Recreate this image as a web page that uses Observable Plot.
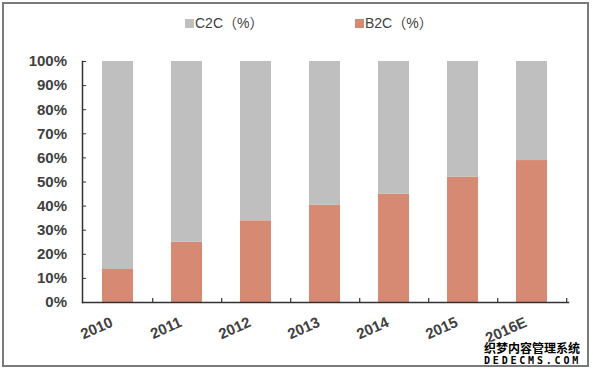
<!DOCTYPE html>
<html>
<head>
<meta charset="utf-8">
<script src="https://cdn.jsdelivr.net/npm/d3@7"></script>
<script src="https://cdn.jsdelivr.net/npm/@observablehq/plot@0.6"></script>
<style>
  html, body { margin: 0; padding: 0; background: #fff; }
  #wrap { position: relative; width: 593px; height: 373px; overflow: hidden; font-family: "Liberation Sans", Arial, "Noto Sans CJK SC", sans-serif; }
  #frame { position: absolute; left: 2px; top: 2px; width: 583px; height: 361px; border: 2px solid #7a7a7a; pointer-events: none; }
  #legend { position: relative; height: 45px; }
  .item { position: absolute; top: 15px; font-size: 14px; color: #404040; line-height: 16px; white-space: nowrap; }
  .sw { display: inline-block; width: 9px; height: 9px; margin-right: 1px; vertical-align: 0px; }
  #wm { position: absolute; left: 484px; top: 341px; color: #000; font-weight: bold; text-shadow: -1px 0 #fff, 1px 0 #fff, 0 -1px #fff, 0 1px #fff; }
  #wm .l1 { font-family: "Noto Sans CJK SC", sans-serif; font-size: 12px; line-height: 13px; height: 13px; }
  #wm .l2 { font-family: "DejaVu Sans Mono", monospace; font-size: 10px; line-height: 9px; height: 9px; margin-top: 2px; letter-spacing: 2.8px; }
  svg { display: block; }
</style>
</head>
<body>
<div id="wrap">
  <div id="legend"></div>
  <div id="chart"></div>
  <div id="wm"><div class="l1">织梦内容管理系统</div><div class="l2">DEDECMS.COM</div></div>
  <div id="frame"></div>
</div>
<script>
const years = ["2010", "2011", "2012", "2013", "2014", "2015", "2016E"];
const b2c = [13.7, 25.0, 33.9, 40.3, 45.0, 52.0, 58.9];
const c2c = [86.3, 75.0, 66.1, 59.7, 55.0, 48.0, 41.1];
const seriesNames = ["C2C（%）", "B2C（%）"];
const seriesColors = ["#BFBFBF", "#D68A74"];
const yTicks = [0, 10, 20, 30, 40, 50, 60, 70, 80, 90, 100];

const rows = years.flatMap((y, i) => [
  {year: y, series: seriesNames[1], value: b2c[i]},
  {year: y, series: seriesNames[0], value: c2c[i]}
]);

// legend
const legendX = [185, 355];
const legend = document.getElementById("legend");
seriesNames.forEach((name, i) => {
  const d = document.createElement("div");
  d.className = "item";
  d.style.left = legendX[i] + "px";
  d.innerHTML = `<span class="sw" style="background:${seriesColors[i]}"></span>${name}`;
  legend.appendChild(d);
});

const W = 593, H = 328, mL = 82, mR = 25, mT = 16, mB = 71;
const step = (W - mL - mR) / years.length;
const axisColor = "#333";
const textColor = "#404040";

const chart = Plot.plot({
  width: W,
  height: H,
  marginLeft: mL,
  marginRight: mR,
  marginTop: mT,
  marginBottom: mB,
  style: {fontFamily: "'Liberation Sans', Arial, sans-serif", background: "transparent"},
  x: {domain: years, paddingInner: 0.55, paddingOuter: 0.275, axis: null},
  y: {domain: [0, 100], axis: null},
  color: {domain: seriesNames, range: seriesColors},
  marks: [
    Plot.barY(rows, {x: "year", y: "value", fill: "series"}),
    Plot.frame({anchor: "left", stroke: axisColor, strokeWidth: 1.5}),
    Plot.frame({anchor: "bottom", stroke: axisColor, strokeWidth: 1.5}),
    Plot.ruleX(years, {x: d => d, y1: 0, y2: 0, insetBottom: 4, dx: step / 2, stroke: axisColor, strokeWidth: 1.2}),
    Plot.axisY({ticks: yTicks, tickFormat: d => d + "%", tickSize: -4, tickPadding: 19.5,
      stroke: axisColor, fill: textColor, fontSize: 15, fontWeight: "bold", label: null}),
    Plot.axisX({tickSize: 0, tickRotate: -24, tickPadding: 19, dx: -6, fill: textColor,
      fontSize: 15, fontWeight: "bold", label: null})
  ]
});
document.getElementById("chart").appendChild(chart);
</script>
</body>
</html>
